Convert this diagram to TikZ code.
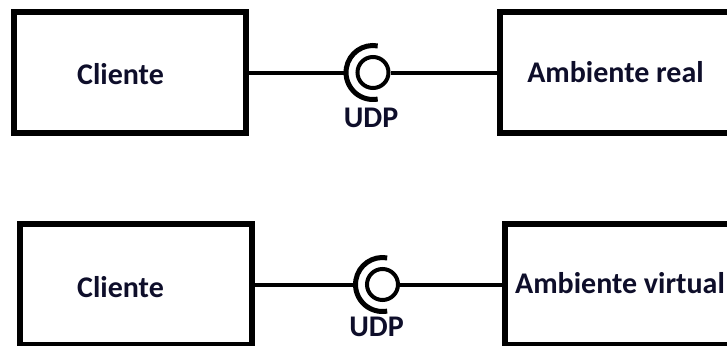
\documentclass[tikz,border=0pt]{standalone}
\usepackage{fontspec}
\setmainfont{Carlito}
\usetikzlibrary{positioning}
\definecolor{tinta}{RGB}{14,14,42}
\tikzset{
  caja/.style={draw, line width=6pt, minimum width=232pt, minimum height=121pt, inner sep=0pt},
  texto/.style={text=tinta, font=\fontsize{30}{36}\selectfont\bfseries, inner sep=0pt},
  bola/.style={draw, circle, line width=4pt, minimum size=31pt, inner sep=0pt},
  linea/.style={line width=4pt},
  zocalo/.style={line width=5pt},
}
\begin{document}
\begin{tikzpicture}[x=1pt, y=-1pt]
	\clip (0,0) rectangle (727,345);
	
	% Fila de arriba
	\node[caja] (cliA) at (129.5,72.5) {};
	\node[caja] (ambReal) at (615.5,72.5) {};
	\node[texto] (tCliA) at (120.5,74) {Cliente};
	\node[texto] (tAmbReal) at (615.5,72) {Ambiente real};
	\node[bola] (bolaA) at (373,72.5) {};
	\coordinate (zocA) at (346,72.5);
	\draw[zocalo] ([shift={(80:27pt)}]bolaA.center) arc[start angle=80, end angle=280, radius=27pt];
	\draw[linea] (cliA) -- (zocA);
	\draw[linea] (bolaA) -- (ambReal);
	\node[texto] (udpA) at (371,117.5) {UDP};
	
	% Fila de abajo
	\node[caja] (cliB) at (135.5,284.5) {};
	\node[caja] (ambVirt) at (621,284.5) {};
	\node[texto] (tCliB) at (120.5,287) {Cliente};
	\node[texto] (tAmbVirt) at (620,283) {Ambiente virtual};
	\node[bola] (bolaB) at (382.5,284.5) {};
	\coordinate (zocB) at (355.5,284.5);
	\draw[zocalo] ([shift={(80:27pt)}]bolaB.center) arc[start angle=80, end angle=280, radius=27pt];
	\draw[linea] (cliB) -- (zocB);
	\draw[linea] (bolaB) -- (ambVirt);
	\node[texto] (udpB) at (376.5,326.5) {UDP};
\end{tikzpicture}
\end{document}
